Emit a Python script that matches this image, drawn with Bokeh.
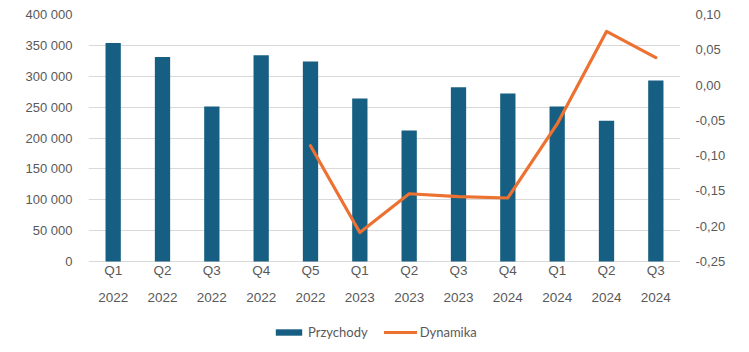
from bokeh.plotting import figure
from bokeh.models import (ColumnDataSource, FactorRange, Range1d, LinearAxis,
                          FixedTicker, CustomJSTickFormatter, Legend, LegendItem, LabelSet)
from bokeh.core.properties import value
from bokeh.embed import file_html
from bokeh.resources import INLINE

quarters = ["Q1", "Q2", "Q3", "Q4", "Q5", "Q1", "Q2", "Q3", "Q4", "Q1", "Q2", "Q3"]
years = ["2022", "2022", "2022", "2022", "2022", "2023", "2023", "2023", "2024", "2024", "2024", "2024"]
categories = [q + " " + y for q, y in zip(quarters, years)]
przychody = [354000, 331000, 251000, 334000, 324000, 264000,
             212000, 282000, 272000, 251000, 228000, 293000]
dyn_categories = categories[4:]
dynamika = [-0.086, -0.209, -0.154, -0.158, -0.160, -0.055, 0.076, 0.039]

left_ticks = [0, 50000, 100000, 150000, 200000, 250000, 300000, 350000, 400000]
right_ticks = [-0.25, -0.20, -0.15, -0.10, -0.05, 0.0, 0.05, 0.10]

BAR = "#175F82"
LINE = "#ED7131"
GRID = "#D9D9D9"
TXT = "#595959"

# frame spans the whole height; value axes map 0..400000 onto the upper 247 px
TOP, FRAME_H, PLOT_H = 14, 338, 247
below = FRAME_H - PLOT_H
left_lo = -400000 * below / PLOT_H
right_lo = -0.25 - 0.35 * below / PLOT_H

p = figure(x_range=FactorRange(*categories), y_range=Range1d(left_lo, 400000),
           width=749, height=352, output_backend="svg", toolbar_location=None,
           x_axis_location=None,
           min_border_left=88, min_border_right=69, min_border_top=TOP, min_border_bottom=0)
p.frame_width = 592
p.frame_height = FRAME_H
p.outline_line_color = None
p.background_fill_color = "white"
p.border_fill_color = "white"

p.extra_y_ranges = {"dyn": Range1d(right_lo, 0.10)}

src = ColumnDataSource(dict(x=categories, y=przychody, q=quarters, yr=years))
bars = p.vbar(x="x", top="y", bottom=0, width=0.31, source=src, fill_color=BAR, line_color=None)

lsrc = ColumnDataSource(dict(x=dyn_categories, y=dynamika))
ln = p.line(x="x", y="y", source=lsrc, line_color=LINE, line_width=3.2,
            y_range_name="dyn", line_join="round", line_cap="round")

# left axis
ya = p.yaxis[0]
ya.ticker = FixedTicker(ticks=left_ticks)
ya.formatter = CustomJSTickFormatter(code="return Math.round(tick).toString().replace(/\\B(?=(\\d{3})+(?!\\d))/g, ' ');")
ya.axis_line_color = None
ya.major_tick_line_color = None
ya.minor_tick_line_color = None
ya.major_label_text_font = "Liberation Sans"
ya.major_label_text_font_size = "13px"
ya.major_label_text_color = TXT
ya.major_label_standoff = 10

# right axis
ra = LinearAxis(y_range_name="dyn", ticker=FixedTicker(ticks=right_ticks))
ra.formatter = CustomJSTickFormatter(code="var s = tick.toFixed(2).replace('.', ','); if (s == '-0,00') s = '0,00'; return s;")
ra.axis_line_color = None
ra.major_tick_line_color = None
ra.minor_tick_line_color = None
ra.major_label_text_font = "Liberation Sans"
ra.major_label_text_font_size = "13px"
ra.major_label_text_color = TXT
ra.major_label_standoff = 9
p.add_layout(ra, "right")

# category labels (two lines) under the bars
for field, off in (("q", 82), ("yr", 55)):
    lab = LabelSet(x="x", y=off, y_units="screen", text=field, source=src,
                   text_align="center", text_baseline="middle",
                   text_font=value("Liberation Sans"), text_font_size="13.5px",
                   text_color=TXT)
    p.add_layout(lab)

for g in p.grid:
    if g.dimension == 0:
        g.grid_line_color = None
        g.visible = False
    else:
        g.grid_line_color = GRID
        g.grid_line_width = 1
        g.ticker = FixedTicker(ticks=left_ticks)

legend = Legend(items=[LegendItem(label="Przychody", renderers=[bars]),
                       LegendItem(label="Dynamika", renderers=[ln])],
                orientation="horizontal", location=(184, 12),
                glyph_width=33, glyph_height=8, label_standoff=3, spacing=16,
                label_text_font="Lato", label_text_font_size="13px",
                label_text_color=TXT, background_fill_alpha=0, border_line_color=None,
                padding=0, margin=0)
p.add_layout(legend, "center")

open("out.html", "w").write(file_html(p, INLINE))
